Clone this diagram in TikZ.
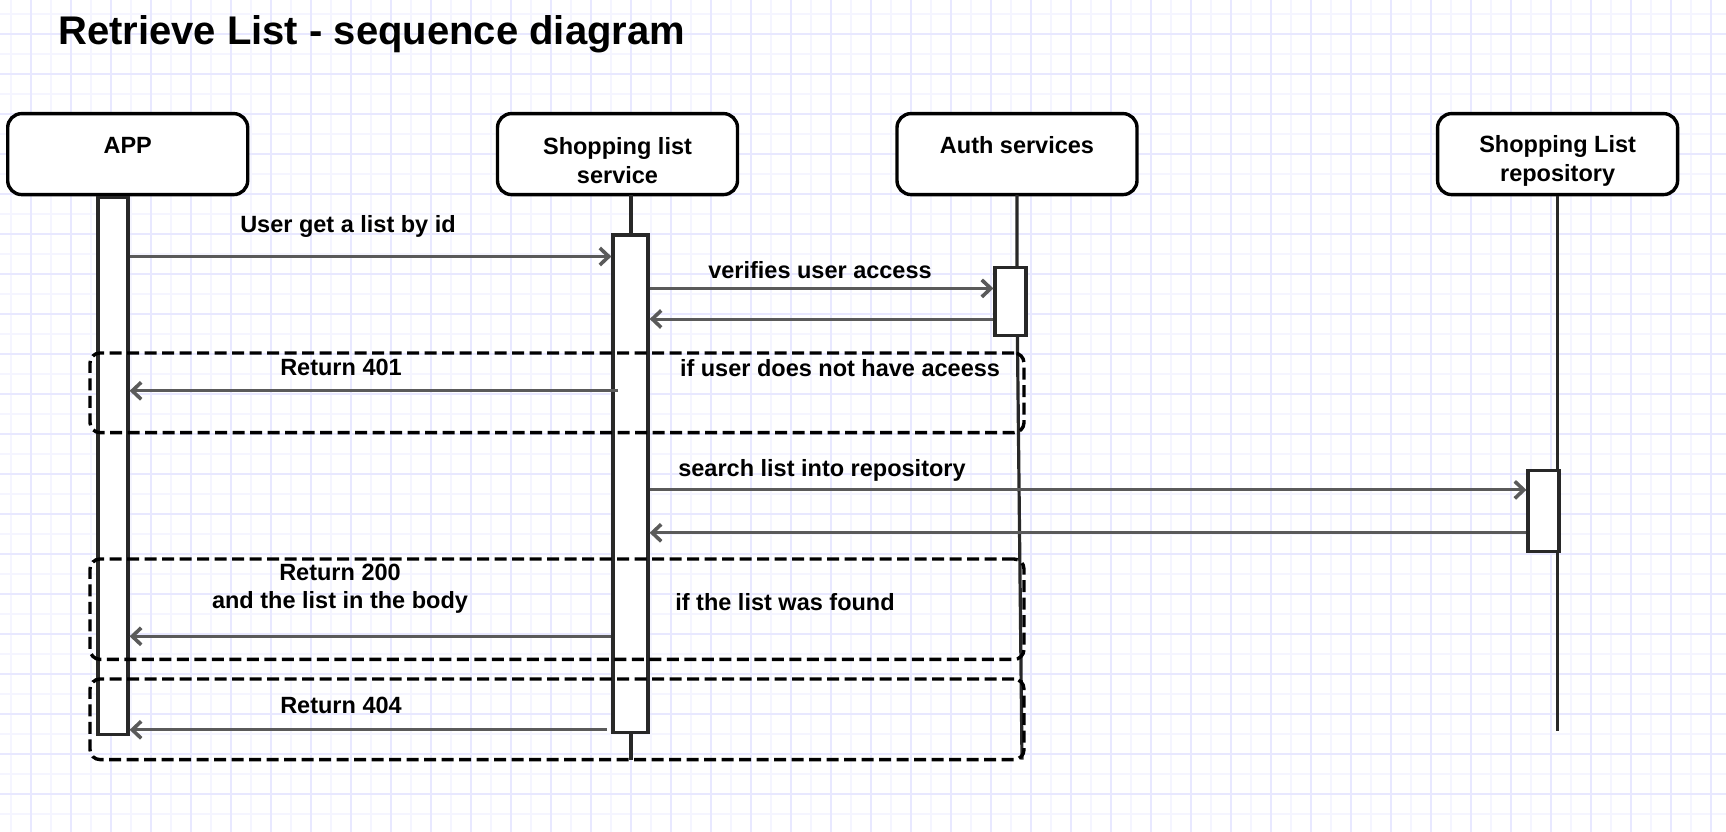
\documentclass[tikz,border=0pt]{standalone}
\usepackage{fontspec}
\setmainfont{Liberation Sans}
\usetikzlibrary{arrows.meta}
\definecolor{gridmaj}{RGB}{232,232,255}
\definecolor{gridmin}{RGB}{245,245,255}
\definecolor{msgc}{RGB}{90,90,90}
\definecolor{lifec}{RGB}{40,40,40}
\begin{document}
\begin{tikzpicture}[x=1pt,y=-1pt,
  actor/.style={draw=black, line width=3.4pt, fill=white, rounded corners=14pt, minimum width=240pt, minimum height=81pt, inner sep=0pt},
  acttext/.style={font=\fontsize{23.5}{29}\selectfont\bfseries, align=center, inner sep=0pt},
  activ/.style={draw=lifec, line width=3.2pt, fill=white, inner sep=0pt, anchor=north},
  life/.style={draw=lifec, line width=3.2pt},
  msg/.style={draw=msgc, line width=3pt, -{Straight Barb[length=9pt,width=17pt,line width=3.6pt]}},
  lbl/.style={font=\fontsize{23.5}{28}\selectfont\bfseries, align=center, inner sep=0pt},
  frame/.style={draw=black, line width=3.4pt, dash pattern=on 12pt off 5.5pt, rounded corners=10pt, inner sep=0pt},
]
\useasboundingbox (0,0) rectangle (1726,832);
\fill[white] (0,0) rectangle (1726,832);
% grid
\foreach \x in {10.7,50.7,...,1726} \draw[gridmin, line width=1.6pt] (\x,0) -- (\x,832);
\foreach \y in {14,54,...,832} \draw[gridmin, line width=1.6pt] (0,\y) -- (1726,\y);
\foreach \x in {30.7,70.7,...,1726} \draw[gridmaj, line width=1.6pt] (\x,0) -- (\x,832);
\foreach \y in {34,74,...,832} \draw[gridmaj, line width=1.6pt] (0,\y) -- (1726,\y);

% title
\node[font=\fontsize{40}{48}\selectfont\bfseries, anchor=base west, inner sep=0pt] (title) at (58,45) {Retrieve List - sequence diagram};

% actors
\node[actor] (app)  at (127.7,154.1) {};
\node[actor] (svc)  at (617.5,154.1) {};
\node[actor] (auth) at (1017,154.1) {};
\node[actor] (repo) at (1557.6,154.1) {};
\node[acttext] (appT)  at (127.7,145.5) {APP};
\node[acttext] (svcT)  at (617.5,160.5) {Shopping list\\service};
\node[acttext] (authT) at (1017,145.5) {Auth services};
\node[acttext] (repoT) at (1557.6,160.5) {Shopping List\\repository};

% lifelines
\coordinate (svcEnd) at (631,759.6);
\coordinate (authEnd) at (1022,759.6);
\coordinate (repoEnd) at (1557.6,731);
\draw[life] (631,194.8) -- (svcEnd);
\draw[life] (1017,194.8) -- (1017,300) -- (authEnd);
\draw[life] (repo.south) -- (repoEnd);

% activations
\node[activ, minimum width=30pt, minimum height=537pt] (aApp) at (113,196) {};
\node[activ, minimum width=35pt, minimum height=497.6pt] (aSvc) at (630.5,233.4) {};
\node[activ, minimum width=31pt, minimum height=67.5pt] (aAuth) at (1010.5,266) {};
\node[activ, minimum width=31pt, minimum height=81pt] (aRepo) at (1543.5,469) {};

% frames
\node[frame, minimum width=934pt, minimum height=79.6pt] (f1) at (557,392.8) {};
\node[frame, minimum width=934pt, minimum height=100.4pt] (f2) at (557,609.2) {};
\node[frame, minimum width=934pt, minimum height=80.6pt] (f3) at (557,719.3) {};

% messages
\coordinate (m1s) at (aApp.east |- 0,256.5);
\coordinate (m1e) at (aSvc.west |- 0,256.5);
\draw[msg] (m1s) -- (m1e);
\node[lbl] (l1) at (348,226.5) {User get a list by id};

\coordinate (m2s) at (aSvc.east |- 0,288.4);
\coordinate (m2e) at (aAuth.west |- 0,288.4);
\draw[msg] (m2s) -- (m2e);
\node[lbl] (l2) at (820,269.7) {verifies user access};

\coordinate (m3s) at (aAuth.west |- 0,319);
\coordinate (m3e) at (aSvc.east |- 0,319);
\draw[msg] (m3s) -- (m3e);

\coordinate (m4s) at (618,390.8);
\coordinate (m4e) at (aApp.east |- 0,390.8);
\draw[msg] (m4s) -- (m4e);
\node[lbl] (l4) at (341,367.7) {Return 401};
\node[lbl] (c4) at (840,367.7) {if user does not have aceess};

\coordinate (m5s) at (aSvc.east |- 0,489.9);
\coordinate (m5e) at (aRepo.west |- 0,489.9);
\draw[msg] (m5s) -- (m5e);
\node[lbl] (l5) at (822,470) {search list into repository};

\coordinate (m6s) at (aRepo.west |- 0,532.8);
\coordinate (m6e) at (aSvc.east |- 0,532.8);
\draw[msg] (m6s) -- (m6e);

\coordinate (m7s) at (aSvc.west |- 0,636.3);
\coordinate (m7e) at (aApp.east |- 0,636.3);
\draw[msg] (m7s) -- (m7e);
\node[lbl] (l7) at (340,589) {Return 200\\and the list in the body};
\node[lbl] (c7) at (785,602) {if the list was found};

\coordinate (m8s) at (607,729.8);
\coordinate (m8e) at (aApp.east |- 0,729.8);
\draw[msg] (m8s) -- (m8e);
\node[lbl] (l8) at (341,705.6) {Return 404};
\end{tikzpicture}
\end{document}
